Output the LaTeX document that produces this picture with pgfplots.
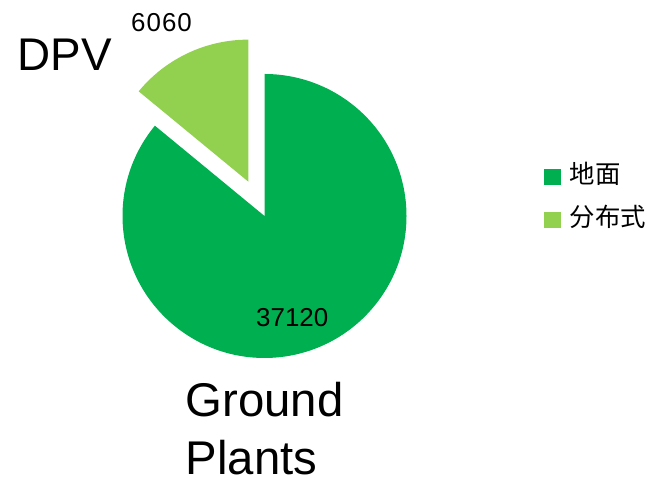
\documentclass[border=0pt]{standalone}
\usepackage{pgfplots}
\pgfplotsset{compat=1.18}
\usepackage{pgfplotstable}
\usepackage{fontspec}
\setmainfont{Liberation Sans}
\newfontfamily\cjk{Noto Sans CJK SC}

\definecolor{ground}{HTML}{00B050}
\definecolor{dpv}{HTML}{92D050}

% pie values: ground plants, distributed PV
\pgfplotstableread{
value
37120
6060
}\piedata
\pgfplotstablegetelem{0}{value}\of\piedata \let\vGround\pgfplotsretval
\pgfplotstablegetelem{1}{value}\of\piedata \let\vDPV\pgfplotsretval

% values are too big for pgfmath, use \fpeval
\edef\angDPV{\fpeval{round(360*\vDPV/(\vGround+\vDPV),3)}}
\edef\angEnd{\fpeval{90+\angDPV}}
\edef\angMid{\fpeval{90+\angDPV/2}}

\begin{document}
\begin{tikzpicture}
\begin{axis}[
    x=1bp, y=1bp,
    xmin=0, xmax=656, ymin=0, ymax=482,
    hide axis, clip=false,
    legend image code/.code={\fill[#1] (0bp,-8bp) rectangle (16.5bp,8bp);},
    legend style={
        at={(axis cs:544,316)}, anchor=north west,
        draw=none, fill=none, inner sep=0pt,
        font=\cjk\fontsize{25.5}{28}\selectfont,
        nodes={inner sep=0pt, text height=17bp, text depth=4bp},
        row sep=22bp,
        /tikz/every odd column/.append style={column sep=9bp},
    },
    legend cell align=left,
]
\path (axis cs:0,0) rectangle (axis cs:656,482);

% big slice
\fill[ground] (axis cs:264.5,266) -- ([shift={(\angEnd:142bp)}]axis cs:264.5,266)
    arc[start angle=\angEnd, end angle=450, radius=142bp] -- cycle;
% exploded small slice
\fill[dpv] ([shift={(\angMid:38bp)}]axis cs:264.5,266) -- ++(90:142bp)
    arc[start angle=90, end angle=\angEnd, radius=142bp] -- cycle;

\addlegendimage{fill=ground, draw=none}
\addlegendentry{地面}
\addlegendimage{fill=dpv, draw=none}
\addlegendentry{分布式}

\node[anchor=base west, inner sep=0pt, font=\fontsize{26}{30}\selectfont\addfontfeature{LetterSpace=4}] at (axis cs:131,450) {6060};
\node[anchor=base west, inner sep=0pt, font=\fontsize{26}{30}\selectfont] at (axis cs:256,155) {37120};
\node[anchor=base west, inner sep=0pt, font=\fontsize{46}{56}\selectfont] at (axis cs:17.5,411.3) {DPV};
\node[anchor=base west, inner sep=0pt, font=\fontsize{47.5}{56}\selectfont] at (axis cs:185.5,65) {Ground};
\node[anchor=base west, inner sep=0pt, font=\fontsize{47.5}{56}\selectfont] at (axis cs:185.5,7) {Plants};
\end{axis}
\end{tikzpicture}
\end{document}
